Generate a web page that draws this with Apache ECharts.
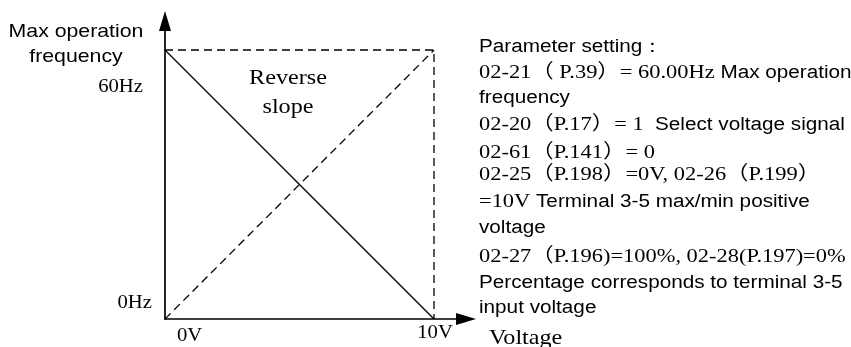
<!DOCTYPE html>
<html>
<head>
<meta charset="utf-8">
<script src="https://cdn.jsdelivr.net/npm/echarts@6/dist/echarts.min.js"></script>
<style>
  html, body { margin: 0; padding: 0; background: #fff; }
  #chart { width: 851px; height: 347px; }
</style>
</head>
<body>
<div id="chart"></div>
<script>
// Input voltage (V) and output frequency (Hz) for the reverse-slope setting
const voltage = [0, 10];
const reverseFreq = [60, 0];   // solid: 0V -> 60Hz, 10V -> 0Hz
const forwardFreq = [0, 60];   // dashed reference: normal slope
const maxFreq = 60;
const maxVolt = 10;

const xTickLabels = ['0V', '10V'];
const yTickLabels = ['0Hz', '60Hz'];
const yAxisTitle = ['Max operation', 'frequency'];
const xAxisTitle = 'Voltage';
const slopeNote = ['Reverse', 'slope'];

const SANS = '"Liberation Sans", Arial, sans-serif';
const SERIF = '"Liberation Serif", "Times New Roman", serif';
const SERIF_CJK = '"Liberation Serif", "Noto Sans CJK SC", serif';
const SX = 1.15;

const pairs = (xs, ys) => xs.map((x, i) => [x, ys[i]]);

const chart = echarts.init(document.getElementById('chart'), null, { renderer: 'canvas' });

function text(x, y, str, font, size, align) {
  return {
    type: 'text', x: x, y: y, scaleX: SX,
    style: { text: str, fontFamily: font, fontSize: size, fill: '#000',
             align: align || 'left', verticalAlign: 'middle' }
  };
}
function richLine(x, y, str) {
  return {
    type: 'text', x: x, y: y, scaleX: SX,
    style: {
      text: str, fill: '#000', align: 'left', verticalAlign: 'middle',
      rich: {
        t: { fontFamily: SERIF_CJK, fontSize: 19.5, fill: '#000' },
        a: { fontFamily: SANS, fontSize: 18, fill: '#000' }
      }
    }
  };
}

const notes = [
  '{a|Parameter setting：}',
  '{t|02-21（ P.39）= 60.00Hz}{a| Max operation}',
  '{a|frequency}',
  '{t|02-20（P.17）= 1 }{a| Select voltage signal}',
  '{t|02-61（P.141）= 0}',
  '{t|02-25（P.198）=0V, 02-26（P.199）}',
  '{t|=10V}{a| Terminal 3-5 max/min positive}',
  '{a|voltage}',
  '{t|02-27（P.196)=100%, 02-28(P.197)=0%}',
  '{a|Percentage corresponds to terminal 3-5}',
  '{a|input voltage}'
];
const noteY = [47, 73, 98, 125, 153, 175, 202, 228, 257, 283, 308];

const graphics = [
  text(76, 32, yAxisTitle[0], SANS, 18.5, 'center'),
  text(76, 57, yAxisTitle[1], SANS, 18.5, 'center'),
  text(143, 87, yTickLabels[1], SERIF, 18, 'right'),
  text(152, 303, yTickLabels[0], SERIF, 18, 'right'),
  text(177, 336, xTickLabels[0], SERIF, 18, 'left'),
  text(435, 333, xTickLabels[1], SERIF, 18, 'center'),
  text(489, 338, xAxisTitle, SERIF, 21, 'left'),
  text(288, 78, slopeNote[0], SERIF, 21, 'center'),
  text(288, 107, slopeNote[1], SERIF, 21, 'center')
];
notes.forEach((s, i) => graphics.push(richLine(479, noteY[i], s)));

const axisLine = (arrowSize) => ({
  show: true,
  symbol: ['none', 'triangle'],
  symbolSize: arrowSize,
  lineStyle: { color: '#000', width: 1.7 }
});

chart.setOption({
  backgroundColor: '#fff',
  animation: false,
  grid: { left: 165, top: 21, width: 301, height: 298 },
  xAxis: {
    type: 'value', min: 0, max: 11.19,
    axisLine: axisLine([12, 20]),
    axisTick: { show: false }, axisLabel: { show: false }, splitLine: { show: false }
  },
  yAxis: {
    type: 'value', min: 0, max: 66.47,
    axisLine: axisLine([12, 20]),
    axisTick: { show: false }, axisLabel: { show: false }, splitLine: { show: false }
  },
  series: [
    {
      type: 'line', name: 'reverse', data: pairs(voltage, reverseFreq),
      symbol: 'none', lineStyle: { color: '#000', width: 1.3 }
    },
    {
      type: 'line', name: 'forward', data: pairs(voltage, forwardFreq),
      symbol: 'none', lineStyle: { color: '#000', width: 1.3, type: [8, 5] }
    },
    {
      type: 'line', name: 'limit',
      data: [[0, maxFreq], [maxVolt, maxFreq], [maxVolt, 0]],
      symbol: 'none', lineStyle: { color: '#000', width: 1.3, type: [8, 5] }
    }
  ],
  graphic: graphics
});
</script>
</body>
</html>
